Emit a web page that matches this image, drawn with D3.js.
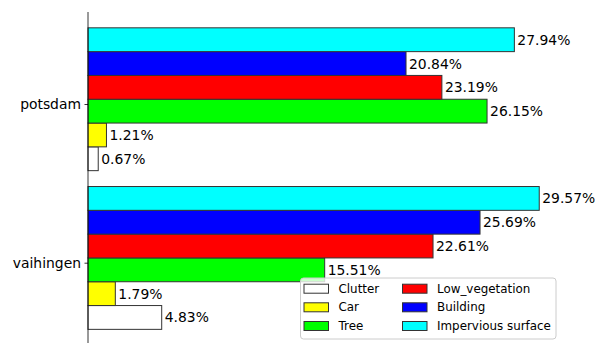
<!DOCTYPE html>
<html>
<head>
<meta charset="utf-8">
<script src="https://cdn.jsdelivr.net/npm/d3@7"></script>
<style>
  html, body { margin: 0; padding: 0; background: #fff; }
  svg { display: block; font-family: "DejaVu Sans", sans-serif; }
</style>
</head>
<body>
<svg id="chart" width="595" height="343"></svg>
<script>
// Datasets (y positions: vaihingen = 0, potsdam = 1)
const datasets = ["vaihingen", "potsdam"];
const classes = ["Clutter", "Car", "Tree", "Low_vegetation", "Building", "Impervious surface"];
const colors = ["#ffffff", "#ffff00", "#00ff00", "#ff0000", "#0000ff", "#00ffff"];

// Per-class share (%) for each dataset, in the order of `classes`
const vaihingenValues = [4.83, 1.79, 15.51, 22.61, 25.69, 29.57];
const potsdamValues   = [0.67, 1.21, 26.15, 23.19, 20.84, 27.94];
const seriesValues = { vaihingen: vaihingenValues, potsdam: potsdamValues };

const barHeight = 0.15;   // bar thickness in y units
const groupShift = 0.345; // center of the first bar relative to the tick

const svg = d3.select("#chart");

const x = d3.scaleLinear().domain([0, 31]).range([88, 88 + 31 * 15.26]);
const y = d3.scaleLinear().domain([0, 1]).range([262.7, 104]);

const edge = "#333333";

// Bars
const rows = [];
datasets.forEach((ds, di) => {
  classes.forEach((cls, ci) => {
    rows.push({ ds, di, cls, ci, value: seriesValues[ds][ci] });
  });
});

const centerOf = d => y(d.di + d.ci * barHeight - groupShift);
const hPx = Math.abs(y(barHeight) - y(0));

svg.append("g").selectAll("rect")
  .data(rows)
  .join("rect")
  .attr("x", x(0))
  .attr("y", d => centerOf(d) - hPx / 2)
  .attr("width", d => x(d.value) - x(0))
  .attr("height", hPx)
  .attr("fill", d => colors[d.ci])
  .attr("stroke", edge)
  .attr("stroke-width", 1);

// Value labels
svg.append("g").selectAll("text")
  .data(rows)
  .join("text")
  .attr("x", d => x(d.value) + 3)
  .attr("y", d => centerOf(d))
  .attr("dominant-baseline", "central")
  .attr("font-size", "13.9px")
  .attr("fill", "#000")
  .text(d => d.value.toFixed(2) + "%");

// Left spine with category ticks
const axis = d3.axisLeft(y)
  .tickValues([0, 1])
  .tickFormat(i => datasets[i])
  .tickSize(3.5)
  .tickPadding(3.5);

const axisG = svg.append("g")
  .attr("transform", `translate(${x(0)},0)`)
  .call(axis);
axisG.select(".domain").remove();
axisG.selectAll(".tick line").attr("stroke", "#000").attr("stroke-width", 0.8);
axisG.selectAll(".tick text")
  .attr("font-size", "13.9px")
  .attr("font-family", "DejaVu Sans, sans-serif")
  .attr("fill", "#000");

svg.append("line")
  .attr("x1", x(0)).attr("x2", x(0))
  .attr("y1", 12).attr("y2", 343)
  .attr("stroke", "#000")
  .attr("stroke-width", 0.8);

// Legend (two columns, column-major order)
const legend = svg.append("g");
legend.append("rect")
  .attr("x", 300.5).attr("y", 278)
  .attr("width", 255.5).attr("height", 61)
  .attr("rx", 3).attr("ry", 3)
  .attr("fill", "#fff").attr("fill-opacity", 0.8)
  .attr("stroke", "#cccccc").attr("stroke-width", 1);

const colX = [304, 402.5];
const rowY = [288.7, 307.3, 326];
classes.forEach((cls, i) => {
  const col = Math.floor(i / 3), row = i % 3;
  const g = legend.append("g");
  g.append("rect")
    .attr("x", colX[col]).attr("y", rowY[row] - 4.5)
    .attr("width", 24.5).attr("height", 9)
    .attr("fill", colors[i])
    .attr("stroke", edge).attr("stroke-width", 1);
  g.append("text")
    .attr("x", colX[col] + 34.5).attr("y", rowY[row])
    .attr("dominant-baseline", "central")
    .attr("font-size", "11.9px")
    .attr("fill", "#000")
    .text(cls);
});
</script>
</body>
</html>
